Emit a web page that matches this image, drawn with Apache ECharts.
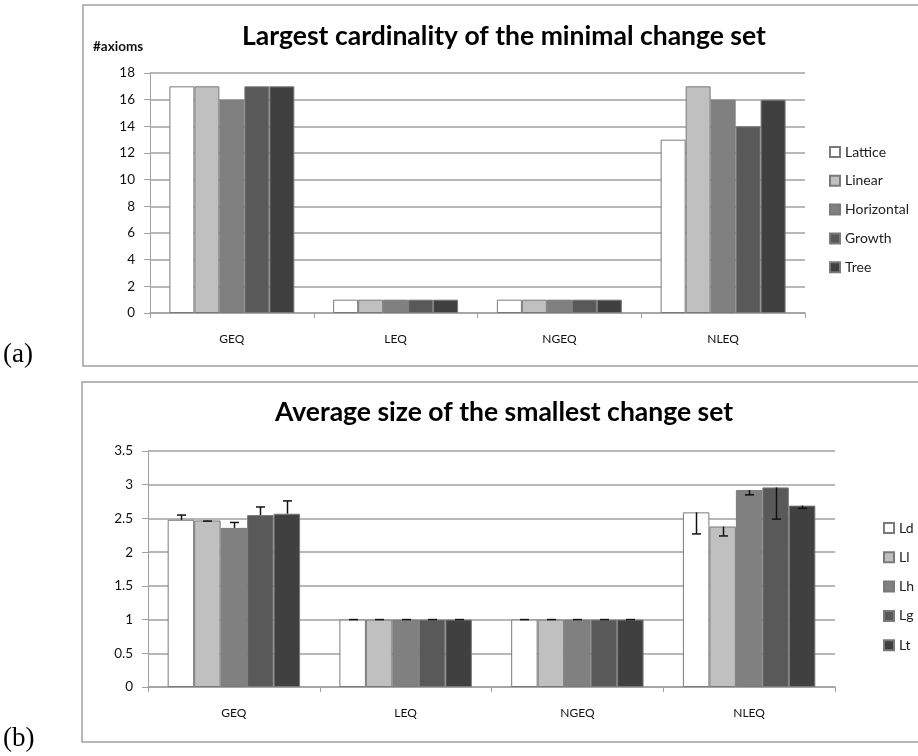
<!DOCTYPE html>
<html>
<head>
<meta charset="utf-8">
<script src="https://cdn.jsdelivr.net/npm/echarts@6/dist/echarts.min.js"></script>
<style>
  html, body { margin: 0; padding: 0; background: #fff; }
  #chart { width: 918px; height: 756px; }
</style>
</head>
<body>
<div id="chart"></div>
<script>
// Categories shared by both panels
const categories = ['GEQ', 'LEQ', 'NGEQ', 'NLEQ'];

// Panel (a): largest cardinality of the minimal change set (#axioms)
const topNames = ['Lattice', 'Linear', 'Horizontal', 'Growth', 'Tree'];
const lattice    = [17, 1, 1, 13];
const linear     = [17, 1, 1, 17];
const horizontal = [16, 1, 1, 16];
const growth     = [17, 1, 1, 14];
const tree       = [17, 1, 1, 16];
const topTicks = { min: 0, max: 18, step: 2 };

// Panel (b): average size of the smallest change set, with error bar end values
const bottomNames = ['Ld', 'Ll', 'Lh', 'Lg', 'Lt'];
const ld = [2.48, 1, 1, 2.59];
const ll = [2.47, 1, 1, 2.38];
const lh = [2.36, 1, 1, 2.92];
const lg = [2.55, 1, 1, 2.96];
const lt = [2.57, 1, 1, 2.69];
const ldErr = [2.55, 1, 1, 2.27];
const llErr = [2.46, 1, 1, 2.24];
const lhErr = [2.44, 1, 1, 2.85];
const lgErr = [2.67, 1, 1, 2.49];
const ltErr = [2.76, 1, 1, 2.65];
const bottomTicks = { min: 0, max: 3.5, step: 0.5 };

const fills = ['#ffffff', '#c0c0c0', '#808080', '#595959', '#404040'];
const FONT = 'Lato, "Open Sans", sans-serif';
const SERIF = '"Liberation Serif", "DejaVu Serif", serif';
const GRID_LINE = '#a0a0a0';
const GAP_TOP = 0.237;
const GAP_BOTTOM = 0.229;

const topValues = [lattice, linear, horizontal, growth, tree];
const bottomValues = [ld, ll, lh, lg, lt];
const bottomErrs = [ldErr, llErr, lhErr, lgErr, ltErr];

function barSeries(names, values, axisIdx, gap) {
  return names.map((name, i) => ({
    name: name,
    type: 'bar',
    xAxisIndex: axisIdx,
    yAxisIndex: axisIdx,
    data: values[i],
    barGap: '0%',
    barCategoryGap: (gap * 100) + '%',
    itemStyle: { color: fills[i], borderColor: '#7a7a7a', borderWidth: 1 },
    emphasis: { disabled: true },
    animation: false
  }));
}

// Error bar items: [category index, bar value, error end, series position]
const errData = [];
bottomValues.forEach((vals, k) => {
  vals.forEach((v, c) => errData.push([c, v, bottomErrs[k][c], k]));
});

function renderErr(params, api) {
  const cat = api.value(0);
  const top = api.value(1);
  const end = api.value(2);
  const k = api.value(3);
  const band = api.size([1, 0])[0];
  const groupW = band * (1 - GAP_BOTTOM);
  const bw = groupW / 5;
  const cx = Math.round(api.coord([cat, 0])[0] - groupW / 2 + bw * (k + 0.5)) + 0.5;
  const y1 = api.coord([cat, top])[1];
  const y2 = api.coord([cat, end])[1];
  const style = { stroke: '#111', lineWidth: 1.5 };
  return {
    type: 'group',
    children: [
      { type: 'line', shape: { x1: cx, y1: y1, x2: cx, y2: y2 }, style: style },
      { type: 'line', shape: { x1: cx - 4.5, y1: y2, x2: cx + 4.5, y2: y2 }, style: style }
    ]
  };
}

function valueAxis(gridIdx, t, fmt) {
  return {
    type: 'value', gridIndex: gridIdx, min: t.min, max: t.max, interval: t.step,
    axisLine: { show: true, lineStyle: { color: GRID_LINE, width: 1 } },
    axisTick: { show: true, length: 6, lineStyle: { color: GRID_LINE } },
    splitLine: { show: true, lineStyle: { color: GRID_LINE, width: 1.5 } },
    axisLabel: { margin: 15, color: '#111', fontSize: 13.5, fontFamily: FONT, formatter: fmt }
  };
}

function catAxis(gridIdx) {
  return {
    type: 'category', gridIndex: gridIdx, data: categories,
    axisLine: { show: true, lineStyle: { color: GRID_LINE, width: 1.5 } },
    axisTick: { show: true, length: 5, lineStyle: { color: GRID_LINE } },
    axisLabel: { margin: 20, color: '#111', fontSize: 12, fontFamily: FONT }
  };
}

const legendText = { color: '#222', fontSize: 14, fontFamily: FONT, lineHeight: 14 };

const option = {
  backgroundColor: '#fff',
  animation: false,
  title: [
    { text: 'Largest cardinality of the minimal change set', left: 504, top: 23, textAlign: 'center', padding: 0,
      textStyle: { fontFamily: FONT, fontWeight: 'bold', fontSize: 26.5, color: '#000' } },
    { text: 'Average size of the smallest change set', left: 504, top: 399, textAlign: 'center', padding: 0,
      textStyle: { fontFamily: FONT, fontWeight: 'bold', fontSize: 26.5, color: '#000' } }
  ],
  grid: [
    { left: 150, top: 73, width: 655, height: 240 },
    { left: 148, top: 451, width: 687, height: 236 }
  ],
  xAxis: [catAxis(0), catAxis(1)],
  yAxis: [valueAxis(0, topTicks), valueAxis(1, bottomTicks, v => String(v))],
  legend: [
    { data: topNames, orient: 'vertical', left: 829, top: 145, itemWidth: 10, itemHeight: 10, itemGap: 14.8,
      itemTextGap: 4, icon: 'rect', textStyle: legendText, padding: 0, selectedMode: false },
    { data: bottomNames, orient: 'vertical', left: 883, top: 521, itemWidth: 10, itemHeight: 10, itemGap: 15.3,
      itemTextGap: 4, icon: 'rect', textStyle: legendText, padding: 0, selectedMode: false }
  ],
  series: [
    ...barSeries(topNames, topValues, 0, GAP_TOP),
    ...barSeries(bottomNames, bottomValues, 1, GAP_BOTTOM),
    { name: 'error', type: 'custom', xAxisIndex: 1, yAxisIndex: 1, data: errData,
      renderItem: renderErr, z: 5, silent: true }
  ],
  graphic: [
    { type: 'rect', shape: { x: 83, y: 5, width: 900, height: 361 }, style: { fill: null, stroke: '#a0a0a0', lineWidth: 1.5 }, z: -1 },
    { type: 'rect', shape: { x: 82, y: 382, width: 900, height: 360 }, style: { fill: null, stroke: '#a0a0a0', lineWidth: 1.5 }, z: -1 },
    { type: 'text', x: 93, y: 47, style: { text: '#axioms', font: 'bold 13.5px ' + FONT, fill: '#111', textVerticalAlign: 'middle' } },
    { type: 'text', x: 3, y: 355, style: { text: '(a)', font: '27px ' + SERIF, fill: '#000', textVerticalAlign: 'middle' } },
    { type: 'text', x: 3, y: 739, style: { text: '(b)', font: '27px ' + SERIF, fill: '#000', textVerticalAlign: 'middle' } }
  ]
};

const chart = echarts.init(document.getElementById('chart'), null, { renderer: 'canvas' });
chart.setOption(option);
</script>
</body>
</html>
